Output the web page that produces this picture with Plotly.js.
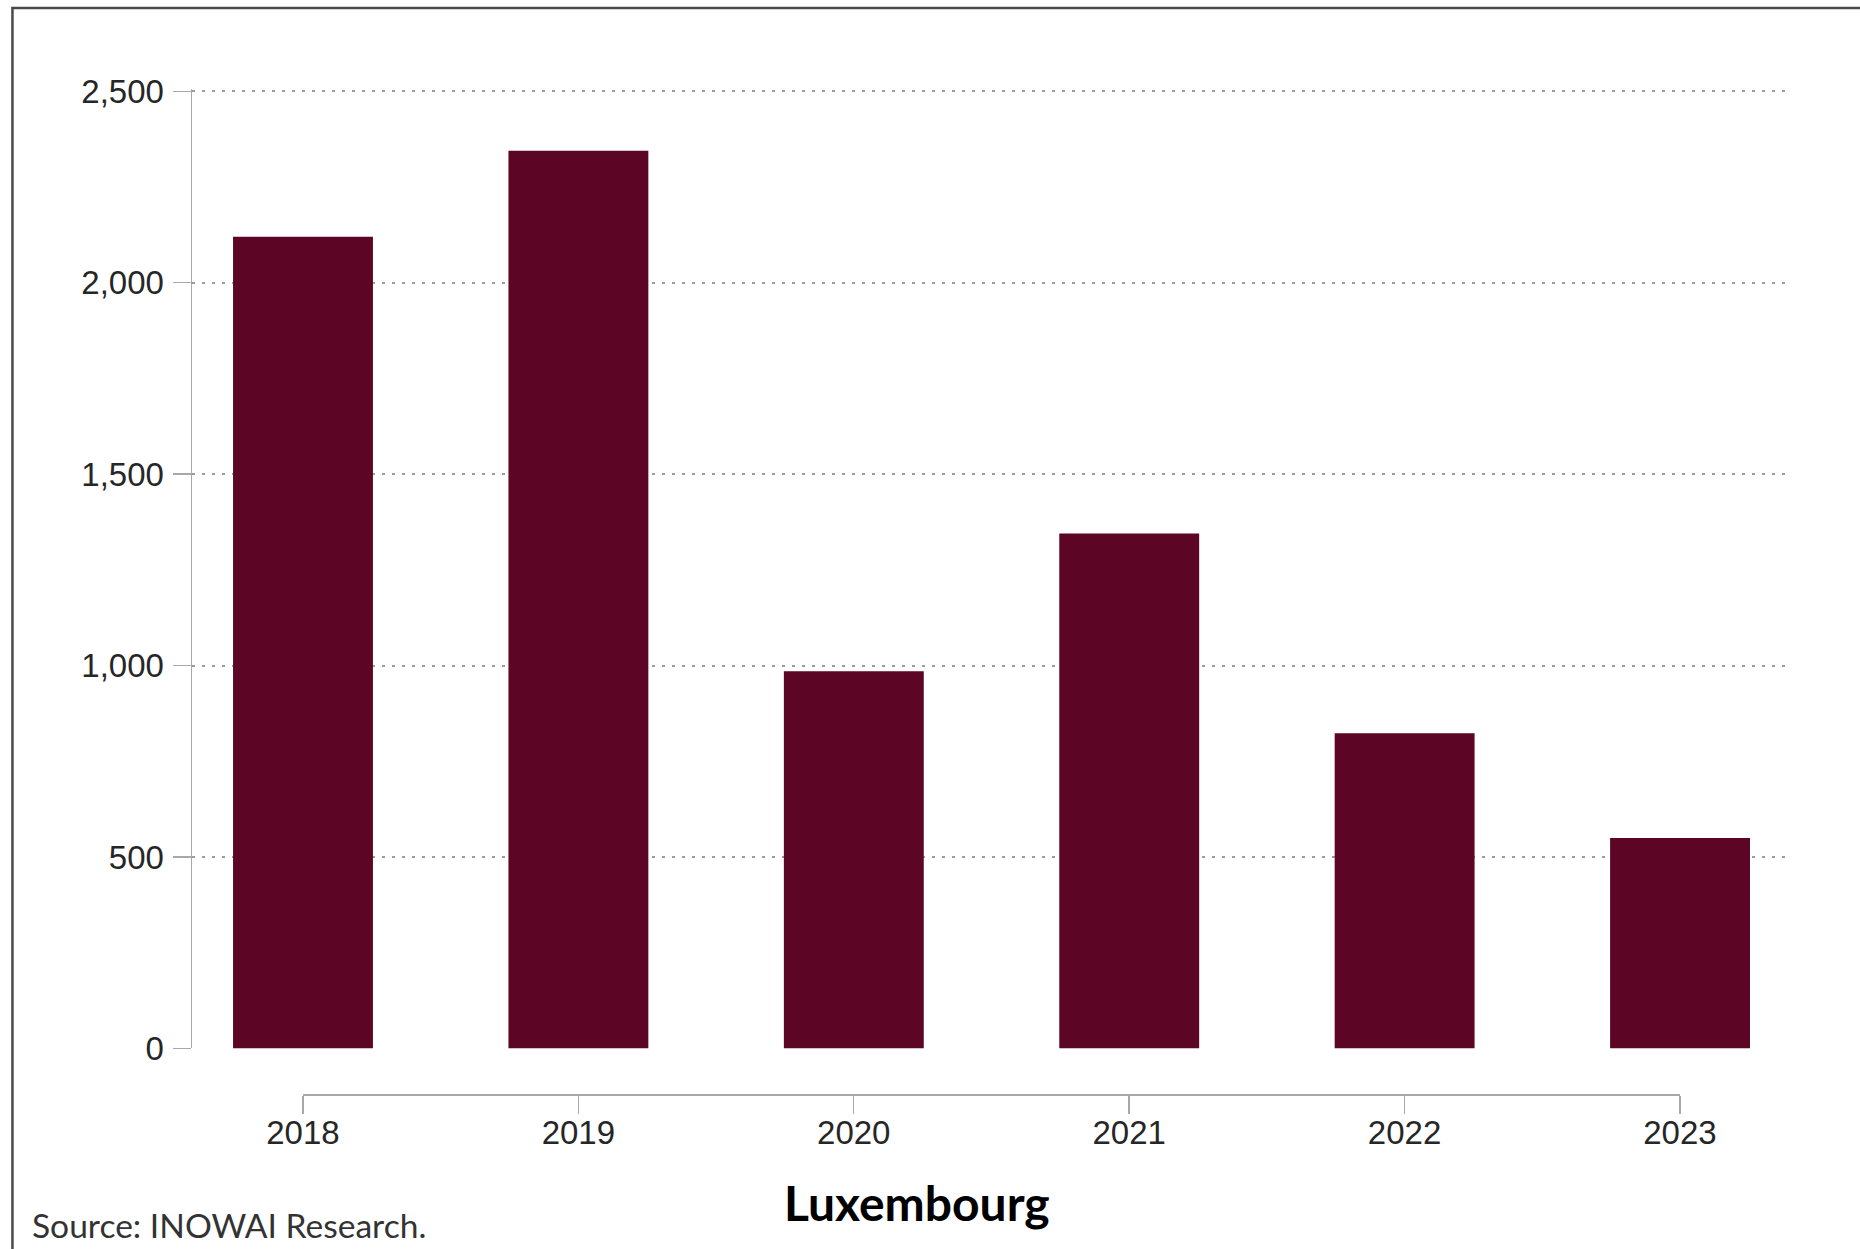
<!DOCTYPE html>
<html>
<head>
<meta charset="utf-8">
<script src="https://cdn.plot.ly/plotly-3.0.1.min.js"></script>
<style>
  html, body { margin: 0; padding: 0; background: #ffffff; overflow: hidden; }
  #chart { width: 1860px; height: 1249px; }
</style>
</head>
<body>
<div id="chart"></div>
<script>
// ---- Data ----
const years = ["2018", "2019", "2020", "2021", "2022", "2023"];
const values = [2120, 2345, 985, 1345, 823, 550];
const yTicks = [0, 500, 1000, 1500, 2000, 2500];
const titleText = "Luxembourg";
const sourceText = "Source: INOWAI Research.";

const barColor = "#5c0525";
const axisColor = "#a8a8a8";
const gridColor = "#9c9c9c";
const textColor = "#262626";

const idx = years.map((_, i) => i);

const traces = [
  {
    type: "bar",
    x: idx,
    y: values,
    xaxis: "x",
    yaxis: "y",
    marker: { color: barColor, line: { width: 0 } },
    hoverinfo: "x+y"
  },
  {
    type: "scatter",
    mode: "markers",
    x: idx,
    y: values,
    xaxis: "x2",
    yaxis: "y2",
    marker: { opacity: 0 },
    hoverinfo: "skip",
    showlegend: false
  }
];

const layout = {
  width: 1860,
  height: 1249,
  margin: { l: 192, r: 72, t: 89, b: 155 },
  paper_bgcolor: "#ffffff",
  plot_bgcolor: "rgba(0,0,0,0)",
  showlegend: false,
  bargap: 0.492,
  font: { family: "Liberation Sans, Arial, sans-serif", color: textColor, size: 32 },
  xaxis: {
    domain: [0, 1],
    range: [-0.403, 5.392],
    showticklabels: false,
    ticks: "",
    showline: false,
    showgrid: false,
    zeroline: false,
    fixedrange: true
  },
  yaxis: {
    domain: [0.0453, 1],
    range: [0, 2506],
    tickvals: yTicks,
    tickformat: ",",
    ticks: "outside",
    ticklen: 18,
    tickwidth: 1.5,
    tickcolor: axisColor,
    showline: true,
    linecolor: axisColor,
    linewidth: 1.5,
    showgrid: true,
    gridcolor: gridColor,
    gridwidth: 2,
    griddash: "3px,7px",
    zeroline: true,
    zerolinecolor: "rgba(0,0,0,0)",
    zerolinewidth: 0,
    ticklabelstandoff: 2,
    tickfont: { family: "Liberation Sans, Arial, sans-serif", size: 33, color: textColor },
    fixedrange: true
  },
  xaxis2: {
    domain: [0.0695, 0.9323],
    anchor: "free",
    position: 0,
    range: [0, 5],
    tickvals: idx,
    ticktext: years,
    ticks: "outside",
    ticklen: 18,
    tickwidth: 1.5,
    tickcolor: axisColor,
    showline: true,
    linecolor: axisColor,
    linewidth: 1.5,
    showgrid: false,
    zeroline: false,
    ticklabelstandoff: -9,
    tickfont: { family: "Liberation Sans, Arial, sans-serif", size: 33, color: textColor },
    fixedrange: true
  },
  yaxis2: {
    domain: [0.0453, 1],
    anchor: "x2",
    range: [0, 2506],
    visible: false,
    fixedrange: true
  },
  annotations: [
    {
      text: "<b>" + titleText + "</b>",
      xref: "paper", yref: "paper",
      x: 0.4543, y: -0.1077,
      xanchor: "center", yanchor: "middle",
      showarrow: false,
      font: { family: "Lato, Carlito, Noto Sans, sans-serif", size: 48, color: "#000000" }
    },
    {
      text: sourceText,
      xref: "paper", yref: "paper",
      x: -0.1015, y: -0.1306,
      xanchor: "left", yanchor: "middle",
      showarrow: false,
      font: { family: "Lato, Liberation Sans, sans-serif", size: 33.6, color: "#333333" }
    }
  ],
  shapes: [
    {
      type: "rect",
      xref: "paper", yref: "paper",
      x0: -0.1125, x1: 1.2,
      y0: -0.3, y1: 1.0806,
      line: { color: "#4a4a4a", width: 2.5 },
      fillcolor: "rgba(0,0,0,0)",
      layer: "above"
    }
  ]
};

Plotly.newPlot("chart", traces, layout, { staticPlot: true, displayModeBar: false });
</script>
</body>
</html>
